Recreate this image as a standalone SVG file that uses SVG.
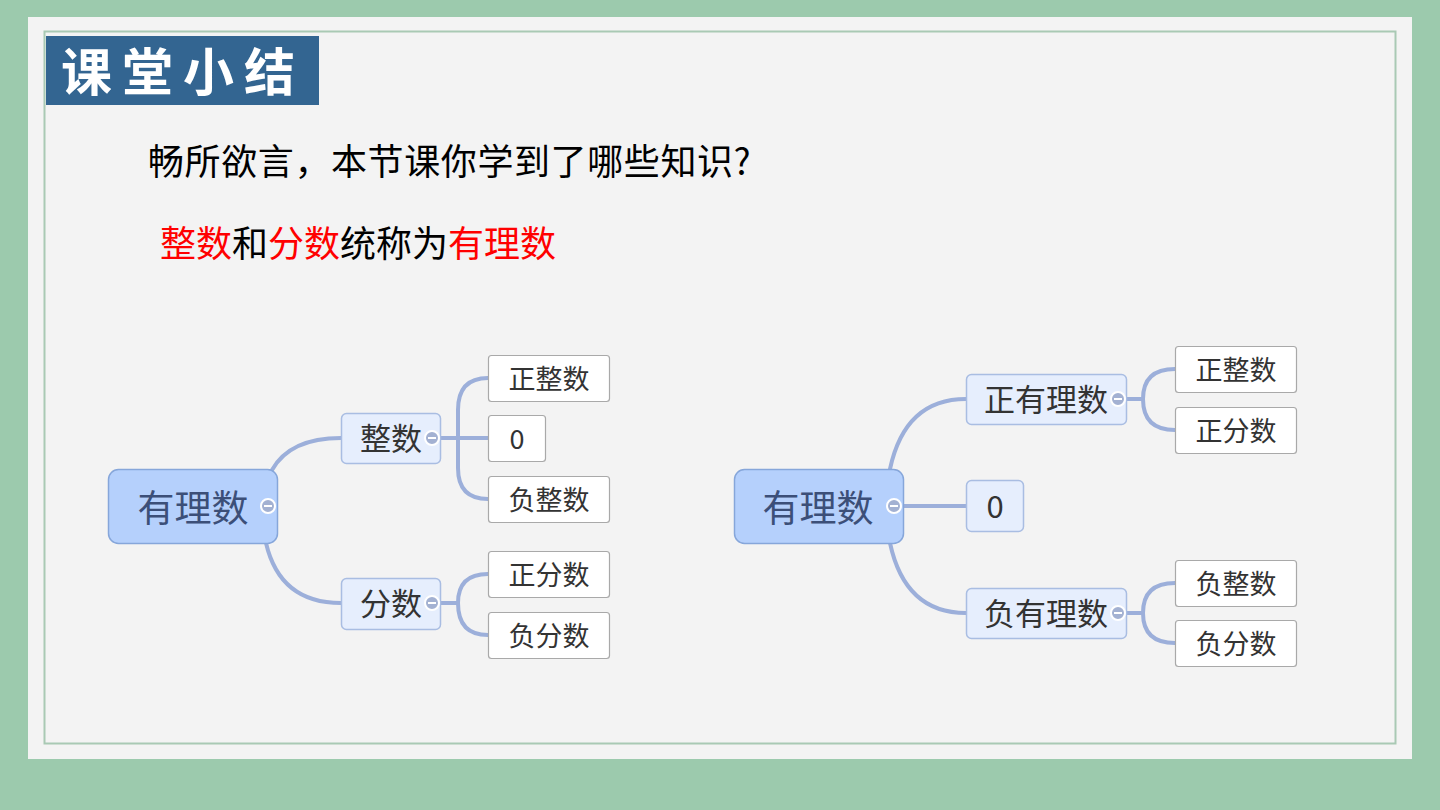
<svg xmlns="http://www.w3.org/2000/svg" width="1440" height="810" viewBox="0 0 1440 810">
<defs>
<style>
.cn{font-family:"Noto Sans CJK SC","Noto Sans",sans-serif;}
.root rect{fill:#b5d0fc;stroke:#86a6da;stroke-width:1.5;}
.root text{font-size:37px;fill:#3c4f78;text-anchor:middle;}
.mid rect{fill:#e6eefd;stroke:#a9bde2;stroke-width:1.5;}
.mid text{font-size:31px;fill:#333;text-anchor:middle;}
.leaf rect{fill:#fff;stroke:#a9a9a9;stroke-width:1.2;}
.leaf text{font-size:27px;fill:#333;text-anchor:middle;}
.conn path{fill:none;stroke:#9cafda;stroke-width:4;stroke-linecap:round;}
.tog circle{fill:#a3b1d2;stroke:#fff;stroke-width:2;}
.tog line{stroke:#fff;stroke-width:2;}
</style>
<g id="toggle" class="tog"><circle cx="0" cy="0" r="7"/><line x1="-4" y1="0" x2="4" y2="0"/></g>
</defs>
<rect x="0" y="0" width="1440" height="810" fill="#9ccaad"/>
<rect x="28" y="17" width="1384" height="742" fill="#f3f3f3"/>
<rect x="44.5" y="31.5" width="1351" height="712" fill="none" stroke="#a9c9b4" stroke-width="2"/>
<g id="title">
<rect x="46" y="36" width="273" height="69" fill="#336591"/>
<text x="61" y="91" class="cn" font-size="51" font-weight="bold" fill="#fff" letter-spacing="10">课堂小结</text>
</g>
<text x="148" y="175" class="cn" font-size="36" letter-spacing="0.6" fill="#000">畅所欲言，本节课你学到了哪些知识?</text>
<text x="160" y="257" class="cn" font-size="36" fill="#000"><tspan fill="#ff0000">整数</tspan>和<tspan fill="#ff0000">分数</tspan>统称为<tspan fill="#ff0000">有理数</tspan></text>

<g id="connectors" class="conn">
<path d="M272 470 Q290 438 341 438"/>
<path d="M266 543 Q280 603 341 603"/>
<path d="M440 438 H488"/>
<path d="M488 378 Q458 378 458 410 V468 Q458 499 488 499"/>
<path d="M440 603 H458"/>
<path d="M488 574 Q458 574 458 603 Q458 635 488 635"/>
<path d="M890 469 Q905 399 966 399"/>
<path d="M903 506 H966"/>
<path d="M890 543 Q905 613 966 613"/>
<path d="M1126 399 H1143"/>
<path d="M1175 369 Q1143 369 1143 399 Q1143 430 1175 430"/>
<path d="M1126 613 H1143"/>
<path d="M1175 583 Q1143 583 1143 613 Q1143 643 1175 643"/>
</g>

<g id="L-root" class="root cn"><rect x="108.5" y="469.5" width="169" height="74" rx="10"/><text x="193" y="522">有理数</text><use href="#toggle" x="268" y="506"/></g>
<g id="L-int" class="mid cn"><rect x="341.5" y="413.5" width="99" height="50" rx="5"/><text x="391" y="450">整数</text><use href="#toggle" x="432" y="438"/></g>
<g id="L-frac" class="mid cn"><rect x="341.5" y="578.5" width="99" height="51" rx="5"/><text x="391" y="615">分数</text><use href="#toggle" x="432" y="603"/></g>
<g id="L-posint" class="leaf cn"><rect x="488.5" y="355.5" width="121" height="46" rx="3"/><text x="549" y="389">正整数</text></g>
<g id="L-zero" class="leaf cn"><rect x="488.5" y="415.5" width="57" height="46" rx="3"/><text x="517" y="449">0</text></g>
<g id="L-negint" class="leaf cn"><rect x="488.5" y="476.5" width="121" height="46" rx="3"/><text x="549" y="510">负整数</text></g>
<g id="L-posfrac" class="leaf cn"><rect x="488.5" y="551.5" width="121" height="46" rx="3"/><text x="549" y="585">正分数</text></g>
<g id="L-negfrac" class="leaf cn"><rect x="488.5" y="612.5" width="121" height="46" rx="3"/><text x="549" y="646">负分数</text></g>

<g id="R-root" class="root cn"><rect x="734.5" y="469.5" width="169" height="74" rx="10"/><text x="818" y="522">有理数</text><use href="#toggle" x="894" y="506"/></g>
<g id="R-pos" class="mid cn"><rect x="966.5" y="374.5" width="160" height="50" rx="5"/><text x="1046" y="411">正有理数</text><use href="#toggle" x="1118" y="399"/></g>
<g id="R-zero" class="mid cn"><rect x="966.5" y="480.5" width="57" height="51" rx="5"/><text x="995" y="518">0</text></g>
<g id="R-neg" class="mid cn"><rect x="966.5" y="588.5" width="160" height="50" rx="5"/><text x="1046" y="625">负有理数</text><use href="#toggle" x="1118" y="613"/></g>
<g id="R-posint" class="leaf cn"><rect x="1175.5" y="346.5" width="121" height="46" rx="3"/><text x="1236" y="380">正整数</text></g>
<g id="R-posfrac" class="leaf cn"><rect x="1175.5" y="407.5" width="121" height="46" rx="3"/><text x="1236" y="441">正分数</text></g>
<g id="R-negint" class="leaf cn"><rect x="1175.5" y="560.5" width="121" height="46" rx="3"/><text x="1236" y="594">负整数</text></g>
<g id="R-negfrac" class="leaf cn"><rect x="1175.5" y="620.5" width="121" height="46" rx="3"/><text x="1236" y="654">负分数</text></g>
</svg>
